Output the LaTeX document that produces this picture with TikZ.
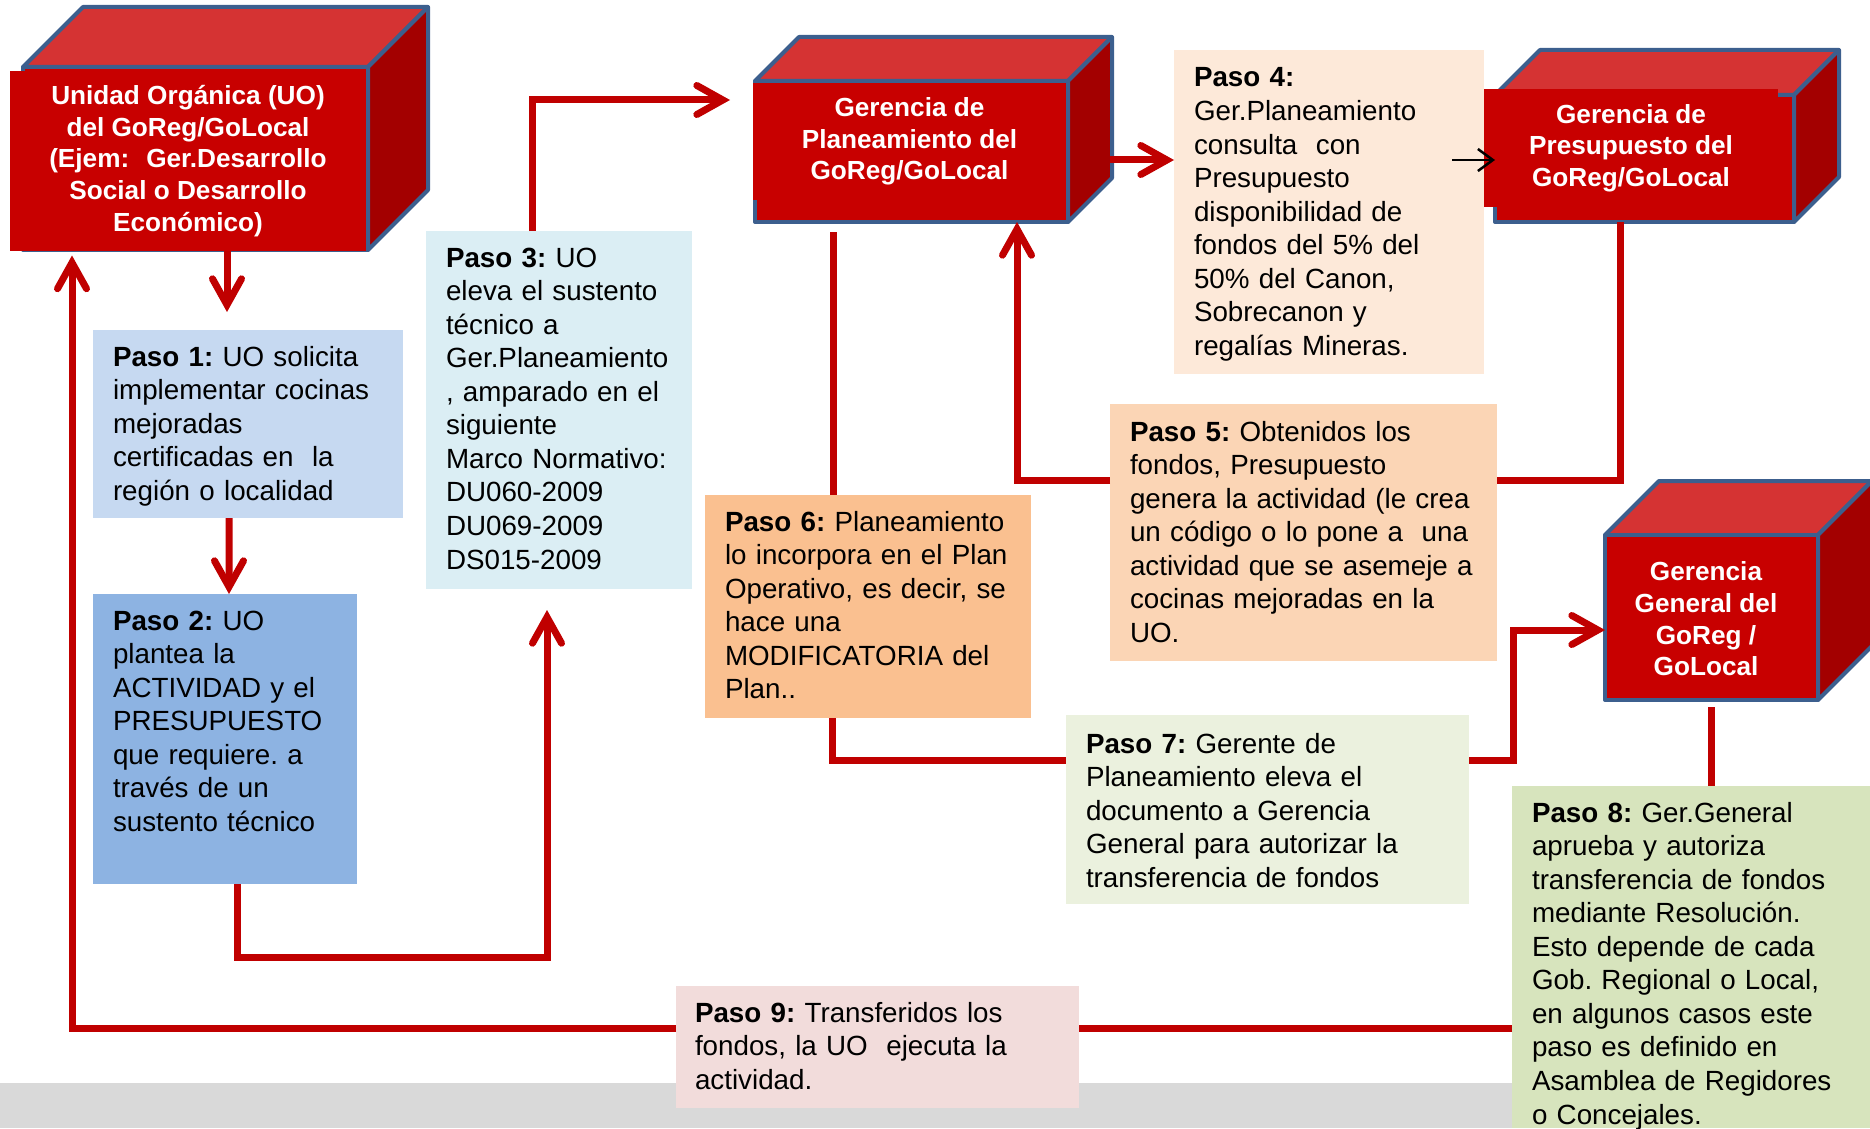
\documentclass[tikz,border=0pt]{standalone}
\usepackage{fontspec}
\setmainfont{Liberation Sans}
\usetikzlibrary{arrows.meta}
\definecolor{flowred}{HTML}{C00000}
\definecolor{cubefront}{HTML}{C80000}
\definecolor{cubetop}{HTML}{D53333}
\definecolor{cubeside}{HTML}{A30000}
\definecolor{cubeedge}{HTML}{3C5F8E}
\definecolor{pasoa}{HTML}{C6D9F1}
\definecolor{pasob}{HTML}{8DB3E2}
\definecolor{pasoc}{HTML}{DBEEF4}
\definecolor{pasod}{HTML}{FDE9D9}
\definecolor{pasoe}{HTML}{FBD5B5}
\definecolor{pasof}{HTML}{FAC090}
\definecolor{pasog}{HTML}{EBF1DE}
\definecolor{pasoh}{HTML}{D7E4BD}
\definecolor{pasoi}{HTML}{F2DCDB}
\definecolor{banda}{HTML}{D9D9D9}

\begin{document}
\begin{tikzpicture}[x=0.1mm,y=-0.1mm]
\tikzstyle{every node}+=[inner sep=0pt, outer sep=0pt]
\tikzstyle{pasobox}=[rectangle, anchor=center]
\tikzstyle{pasotext}=[anchor=base west, text width=40mm, align=left, font=\fontsize{7.9}{9.55}\selectfont\frenchspacing]
\tikzstyle{cubetext}=[text=white, align=center, font=\fontsize{7.45}{9}\selectfont\bfseries]
\tikzstyle{cubeface}=[draw=cubeedge, line width=0.4mm, line join=round]
\tikzstyle{flowline}=[draw=flowred, line width=0.7mm]
\tikzstyle{flow}=[flowline, -{Straight Barb[length=2.6mm,width=2.9mm,line cap=round]}]
\tikzstyle{thinarrow}=[draw=black, line width=0.25mm, -{Straight Barb[length=1.5mm,width=2.2mm]}]
\useasboundingbox (0,0) rectangle (1870,1128);
\fill[banda] (0,1083) rectangle (1870,1128);
\node[pasobox, fill=pasoa, minimum width=31mm, minimum height=18.8mm] (p1) at (248,424) {};
\node[pasobox, fill=pasob, minimum width=26.4mm, minimum height=29mm] (p2) at (225,739) {};
\node[pasobox, fill=pasoc, minimum width=26.6mm, minimum height=35.8mm] (p3) at (559,410) {};
\node[pasobox, fill=pasod, minimum width=31mm, minimum height=32.4mm] (p4) at (1329,212) {};
\node[pasobox, fill=pasoe, minimum width=38.7mm, minimum height=25.7mm] (p5) at (1303.5,532.5) {};
\node[pasobox, fill=pasof, minimum width=32.6mm, minimum height=22.3mm] (p6) at (868,606.5) {};
\node[pasobox, fill=pasog, minimum width=40.3mm, minimum height=18.9mm] (p7) at (1267.5,809.5) {};
\node[pasobox, fill=pasoh, minimum width=35.8mm, minimum height=34.2mm] (p8) at (1691,957) {};
\node[pasobox, fill=pasoi, minimum width=40.3mm, minimum height=12.2mm] (p9) at (877.5,1047) {};
\filldraw[cubeface, fill=cubefront] (23,67) rectangle (368,250);
\filldraw[cubeface, fill=cubetop] (23,67) -- (83,7) -- (428,7) -- (368,67) -- cycle;
\filldraw[cubeface, fill=cubeside] (368,67) -- (428,7) -- (428,190) -- (368,250) -- cycle;
\node[cubetext, fill=cubefront, minimum width=35.6mm, minimum height=17.9mm] (uo) at (188,161) {Unidad Orgánica (UO)\\del GoReg/GoLocal\\(Ejem:~ Ger.Desarrollo\\Social o Desarrollo\\Económico)};
\filldraw[cubeface, fill=cubefront] (755,81) rectangle (1068,222);
\filldraw[cubeface, fill=cubetop] (755,81) -- (799,37) -- (1112,37) -- (1068,81) -- cycle;
\filldraw[cubeface, fill=cubeside] (1068,81) -- (1112,37) -- (1112,178) -- (1068,222) -- cycle;
\node[cubetext, fill=cubefront, minimum width=31.3mm, minimum height=11.7mm] (gp) at (909.5,141.5) {Gerencia de\\Planeamiento del\\GoReg/GoLocal};
\filldraw[cubeface, fill=cubefront] (1495,95) rectangle (1794,222);
\filldraw[cubeface, fill=cubetop] (1495,95) -- (1540,50) -- (1839,50) -- (1794,95) -- cycle;
\filldraw[cubeface, fill=cubeside] (1794,95) -- (1839,50) -- (1839,177) -- (1794,222) -- cycle;
\node[cubetext, fill=cubefront, minimum width=29.4mm, minimum height=11.7mm] (gpres) at (1631,148) {Gerencia de\\Presupuesto del\\GoReg/GoLocal};
\filldraw[cubeface, fill=cubetop] (1605,535) -- (1659,481) -- (1872,481) -- (1818,535) -- cycle;
\filldraw[cubeface, fill=cubeside] (1818,535) -- (1872,481) -- (1872,646) -- (1818,700) -- cycle;
\node[cubeface, fill=cubefront, minimum width=21.3mm, minimum height=16.5mm] (gg) at (1711.5,617.5) {};
\node[cubetext] (ggtext) at (1706,619) {Gerencia\\General del\\GoReg /\\GoLocal};
\node[pasotext] (t1) at (113,366) {\textbf{Paso 1:} UO solicita\\implementar cocinas\\mejoradas\\certificadas en~ la\\región o localidad};
\node[pasotext] (t2) at (113,630) {\textbf{Paso 2:} UO\\plantea la\\ACTIVIDAD y el\\PRESUPUESTO\\que requiere. a\\través de un\\sustento técnico};
\node[pasotext] (t3) at (446,267) {\textbf{Paso 3:} UO\\eleva el sustento\\técnico a\\Ger.Planeamiento\\, amparado en el\\siguiente\\Marco Normativo:\\DU060-2009\\DU069-2009\\DS015-2009};
\node[pasotext] (t4) at (1194,87) {\textbf{Paso 4:}\\Ger.Planeamiento\\consulta~ con\\Presupuesto\\disponibilidad de\\fondos del 5\% del\\50\% del Canon,\\Sobrecanon y\\regalías Mineras.};
\node[pasotext] (t5) at (1130,441) {\textbf{Paso 5:} Obtenidos los\\fondos, Presupuesto\\genera la actividad (le crea\\un código o lo pone a~ una\\actividad que se asemeje a\\cocinas mejoradas en la\\UO.};
\node[pasotext] (t6) at (725,531) {\textbf{Paso 6:} Planeamiento\\lo incorpora en el Plan\\Operativo, es decir, se\\hace una\\MODIFICATORIA del\\Plan..};
\node[pasotext] (t7) at (1086,753) {\textbf{Paso 7:} Gerente de\\Planeamiento eleva el\\documento a Gerencia\\General para autorizar la\\transferencia de fondos};
\node[pasotext] (t8) at (1532,822) {\textbf{Paso 8:} Ger.General\\aprueba y autoriza\\transferencia de fondos\\mediante Resolución.\\Esto depende de cada\\Gob. Regional o Local,\\en algunos casos este\\paso es definido en\\Asamblea de Regidores\\o Concejales.};
\node[pasotext] (t9) at (695,1022) {\textbf{Paso 9:} Transferidos los\\fondos, la UO~ ejecuta la\\actividad.};
\coordinate (gpR) at (1110,160);
\coordinate (gpB) at (1017,222);
\coordinate (gpL) at (833,232);
\coordinate (gpresB) at (1620,222);
\coordinate (p4arr) at (1452,160);
\draw[flow] ([xshift=-2.1mm]p1.north |- uo.south) -- ([xshift=-2.1mm,yshift=1.8mm]p1.north);
\draw[flow] ([xshift=-1.9mm]p1.south) -- ([xshift=0.4mm]p2.north);
\draw[flow] ([xshift=1.2mm]p2.south) -- ++(0,73) -| ([xshift=-1.2mm,yshift=-2.1mm]p3.south);
\draw[flow] ([xshift=-2.7mm]p3.north) |- ([xshift=-2.3mm,yshift=-1.7mm]gp.north west);
\draw[flow] (gpR) -- (gpR -| p4.west);
\draw[thinarrow] (p4arr) -- ([xshift=1.1mm]p4arr -| gpres.west);
\draw[flowline] (gpresB) |- ([yshift=5.25mm]p5.east);
\draw[flow] ([yshift=5.25mm]p5.west) -| (gpB);
\draw[flowline] (gpL) -- (gpL |- p6.north);
\draw[flowline] ([xshift=-3.6mm]p6.south) |- ([yshift=4.95mm]p7.west);
\draw[flow] ([yshift=4.95mm]p7.east) -- ++(44,0) |- ([yshift=-1.25mm]gg.west);
\draw[flowline] ([yshift=-0.7mm]gg.south) -- (gg.south |- p8.north);
\draw[flowline] ([yshift=1.9mm]p9.east -| p8.west) -- ([yshift=1.9mm]p9.east);
\draw[flow] ([yshift=1.9mm]p9.west) -| ([xshift=-11.6mm,yshift=-0.5mm]uo.south);
\end{tikzpicture}
\end{document}
